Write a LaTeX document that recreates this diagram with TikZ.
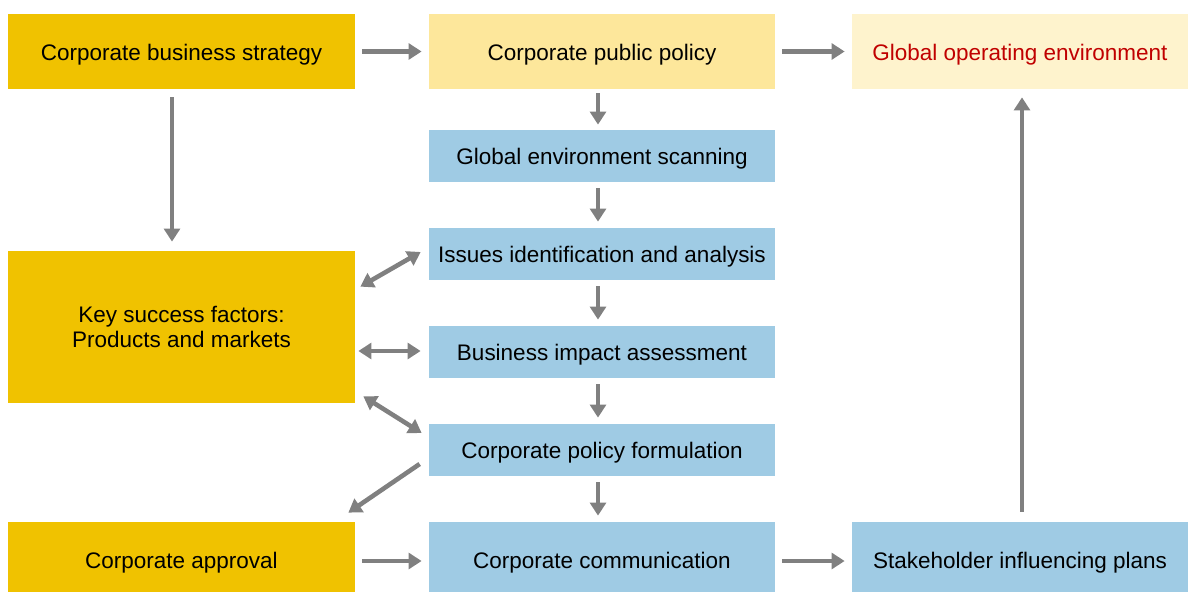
\documentclass[tikz,border=0pt]{standalone}
\usepackage{fontspec}
\setmainfont{Liberation Sans}
\usepackage{xcolor}
\usetikzlibrary{arrows.meta,positioning,calc}

\definecolor{gold}{HTML}{F0C200}
\definecolor{lightgold}{HTML}{FDE79B}
\definecolor{palegold}{HTML}{FEF3CD}
\definecolor{stepblue}{HTML}{9FCBE4}
\definecolor{arrowgray}{HTML}{808080}
\definecolor{darkred}{HTML}{C00000}

\begin{document}
\begin{tikzpicture}[
    box/.style={rectangle, inner sep=0pt, align=center, font=\fontsize{12.8pt}{15pt}\selectfont},
    oneline/.style={box, text height=12.7pt, text depth=2.7pt},
    wide/.style={oneline, minimum width=6.94cm, minimum height=1.5cm},
    stage/.style={oneline, fill=stepblue, minimum width=6.92cm, minimum height=1.04cm},
    flow/.style={-{Triangle[length=7.4pt,width=9pt]}, line width=2.6pt, arrowgray},
    both/.style={{Triangle[length=7.4pt,width=9pt]}-{Triangle[length=7.4pt,width=9pt]}, line width=2.6pt, arrowgray},
    down/.style={flow, shorten <=0.12cm, shorten >=0.12cm}
]
    \useasboundingbox (0,0) rectangle (23.76,-11.84);
    \node[wide, fill=gold] (strategy) at (3.63,-1.03) {Corporate business strategy};
    \node[wide, fill=lightgold, minimum width=6.92cm] (policy) at (12.04,-1.03) {Corporate public policy};
    \node[wide, fill=palegold, minimum width=6.72cm, text=darkred] (environment) at (20.40,-1.03) {Global operating environment};
    \node[stage] (scanning) at (12.04,-3.12) {Global environment scanning};
    \node[stage] (issues) at (12.04,-5.08) {Issues identification and analysis};
    \node[stage] (impact) at (12.04,-7.04) {Business impact assessment};
    \node[stage] (formulation) at (12.04,-9.00) {Corporate policy formulation};
    \node[stage, minimum height=1.5cm] (communication) at (12.04,-11.19) {Corporate communication};
    \node[wide, fill=gold] (approval) at (3.63,-11.19) {Corporate approval};
    \node[wide, fill=stepblue, minimum width=6.72cm] (stakeholder) at (20.40,-11.19) {Stakeholder influencing plans};
    \node[box, fill=gold, minimum width=6.94cm, minimum height=3.04cm] (factors) at (3.63,-6.54) {Key success factors:\\[-0.5pt]Products and markets};

    \draw[flow, shorten <=0.14cm, shorten >=0.14cm] (strategy) -- (policy);
    \draw[flow, shorten <=0.14cm, shorten >=0.14cm] (policy) -- (environment);
    \draw[flow, shorten <=0.16cm, shorten >=0.18cm] ([xshift=-0.19cm]strategy.south) -- ([xshift=-0.19cm]factors.north);
    \draw[flow, shorten <=0.08cm, shorten >=0.1cm] ([xshift=-0.08cm]policy.south) -- ([xshift=-0.08cm]scanning.north);
    \draw[down] ([xshift=-0.08cm]scanning.south) -- ([xshift=-0.08cm]issues.north);
    \draw[down] ([xshift=-0.08cm]issues.south) -- ([xshift=-0.08cm]impact.north);
    \draw[down] ([xshift=-0.08cm]impact.south) -- ([xshift=-0.08cm]formulation.north);
    \draw[down] ([xshift=-0.08cm]formulation.south) -- ([xshift=-0.08cm]communication.north);
    \draw[flow, shorten <=0.14cm, shorten >=0.14cm] ([yshift=-0.03cm]approval.east) -- ([yshift=-0.03cm]communication.west);
    \draw[flow, shorten <=0.14cm, shorten >=0.14cm] ([yshift=-0.03cm]communication.east) -- ([yshift=-0.03cm]stakeholder.west);
    \draw[flow, shorten <=0.2cm, shorten >=0.16cm] ([xshift=0.04cm]stakeholder.north) -- ([xshift=0.04cm]environment.south);
    \draw[both] ([shift={(0.1,-0.72)}]factors.north east) -- ([shift={(-0.16,0.04)}]issues.west);
    \draw[both] ($(factors.east |- impact.west)+(0.06,0.02)$) -- ([shift={(-0.16,0.02)}]impact.west);
    \draw[both] ([shift={(0.16,0.14)}]factors.south east) -- ([shift={(-0.14,0.34)}]formulation.west);
    \draw[flow] ([shift={(-0.18,-0.28)}]formulation.west) -- ([shift={(-0.14,0.18)}]approval.north east);
\end{tikzpicture}
\end{document}
